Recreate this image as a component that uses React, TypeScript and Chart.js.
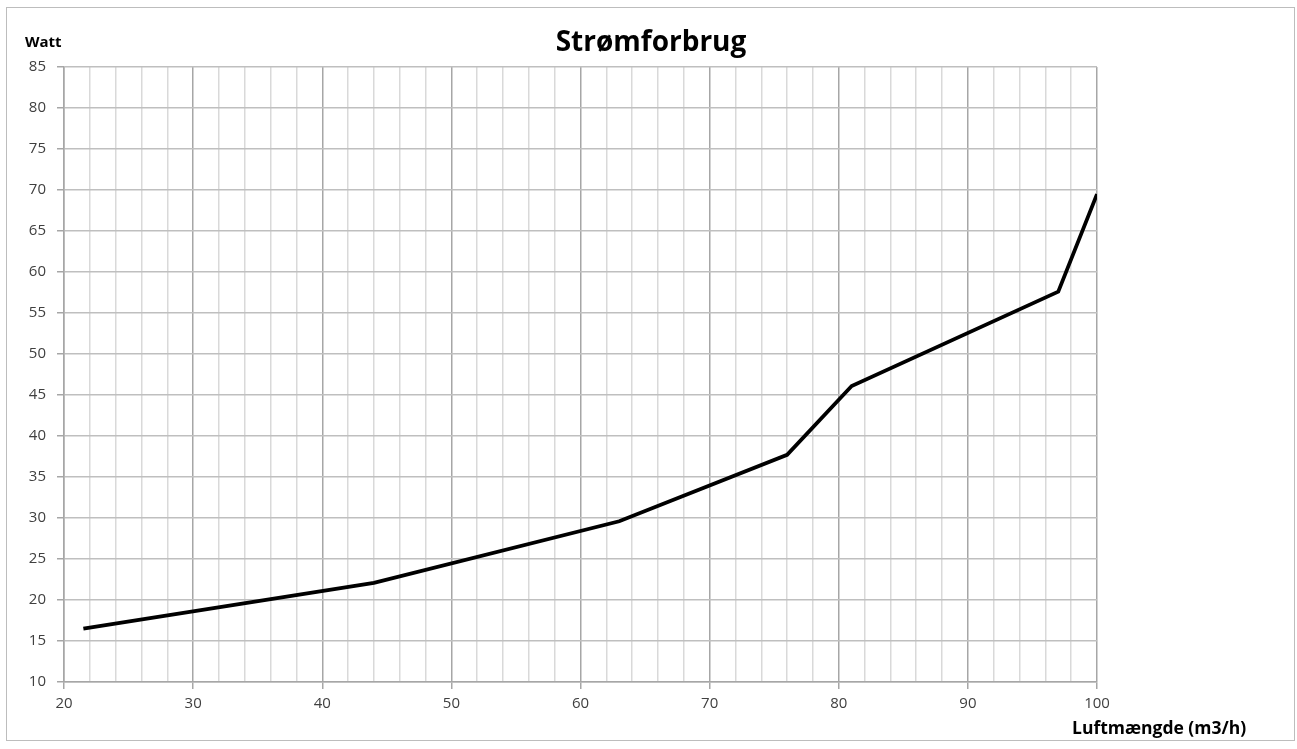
import React, { useEffect, useRef } from "react";
import { Chart, registerables } from "chart.js";

Chart.register(...registerables);

const titleText = "Strømforbrug";
const yAxisLabel = "Watt";
const xAxisLabel = "Luftmængde (m3/h)";
const airflow = [21.5, 44, 63, 76, 81, 97, 100];
const watts = [16.5, 22.1, 29.6, 37.7, 46.1, 57.6, 69.5];
const xMin = 20;
const xMax = 100;
const yMin = 10;
const yMax = 85;

const FONT = "'Open Sans', 'DejaVu Sans', sans-serif";

const textPlugin = {
  id: "textLabels",
  afterDraw(chart: any) {
    const ctx = chart.ctx;
    ctx.save();
    ctx.fillStyle = "#000";
    ctx.textBaseline = "alphabetic";
    ctx.font = `bold 28px ${FONT}`;
    ctx.textAlign = "center";
    ctx.fillText(titleText, 651, 51);
    ctx.font = `bold 15px ${FONT}`;
    ctx.textAlign = "left";
    ctx.fillText(yAxisLabel, 25, 47);
    ctx.font = `bold 17.5px ${FONT}`;
    ctx.textAlign = "left";
    ctx.fillText(xAxisLabel, 1072, 734);
    ctx.restore();
  },
};

export default function App() {
  const ref = useRef<HTMLCanvasElement | null>(null);
  useEffect(() => {
    if (!ref.current) return;
    const chart = new Chart(ref.current, {
      type: "line",
      data: {
        datasets: [
          {
            data: airflow.map((x, i) => ({ x, y: watts[i] })),
            borderColor: "#000",
            borderWidth: 3.8,
            pointRadius: 0,
            tension: 0,
            fill: false,
          },
        ],
      },
      options: {
        animation: false,
        responsive: false,
        maintainAspectRatio: false,
        layout: { padding: { left: 0, top: 67, right: 200, bottom: 0 } },
        plugins: { legend: { display: false }, tooltip: { enabled: false } },
        scales: {
          x: {
            type: "linear",
            min: xMin,
            max: xMax,
            afterFit(scale: any) {
              scale.height = 67;
            },
            ticks: {
              stepSize: 2,
              autoSkip: false,
              maxRotation: 0,
              padding: 6,
              color: "#404040",
              font: { family: FONT, size: 15 },
              callback: (v: any) => (Number(v) % 10 === 0 ? String(v) : ""),
            },
            grid: {
              lineWidth: 1.5,
              tickLength: 7,
              color: (c: any) => (c.tick && c.tick.value % 10 === 0 ? "#a6a6a6" : "#d9d9d9"),
              tickColor: (c: any) => (c.tick && c.tick.value % 10 === 0 ? "#a6a6a6" : "rgba(0,0,0,0)"),
            },
            border: { color: "#a6a6a6", width: 1.5 },
          },
          y: {
            type: "linear",
            min: yMin,
            max: yMax,
            afterFit(scale: any) {
              scale.width = 64;
            },
            ticks: {
              stepSize: 5,
              padding: 11,
              color: "#404040",
              font: { family: FONT, size: 15 },
            },
            grid: {
              lineWidth: 1.5,
              tickLength: 7,
              color: "#bfbfbf",
              tickColor: "#a6a6a6",
            },
            border: { color: "#a6a6a6", width: 1.5 },
          },
        },
      },
      plugins: [textPlugin],
    });
    return () => chart.destroy();
  }, []);
  return (
    <div style={{ position: "absolute", left: 0, top: 0, width: 1297, height: 749, background: "#fff" }}>
      <div
        style={{
          position: "absolute",
          left: 6,
          top: 7,
          width: 1289,
          height: 734,
          border: "1px solid #bdbdbd",
          boxSizing: "border-box",
        }}
      />
      <canvas ref={ref} width={1297} height={749} style={{ position: "absolute", left: 0, top: 0 }} />
    </div>
  );
}
